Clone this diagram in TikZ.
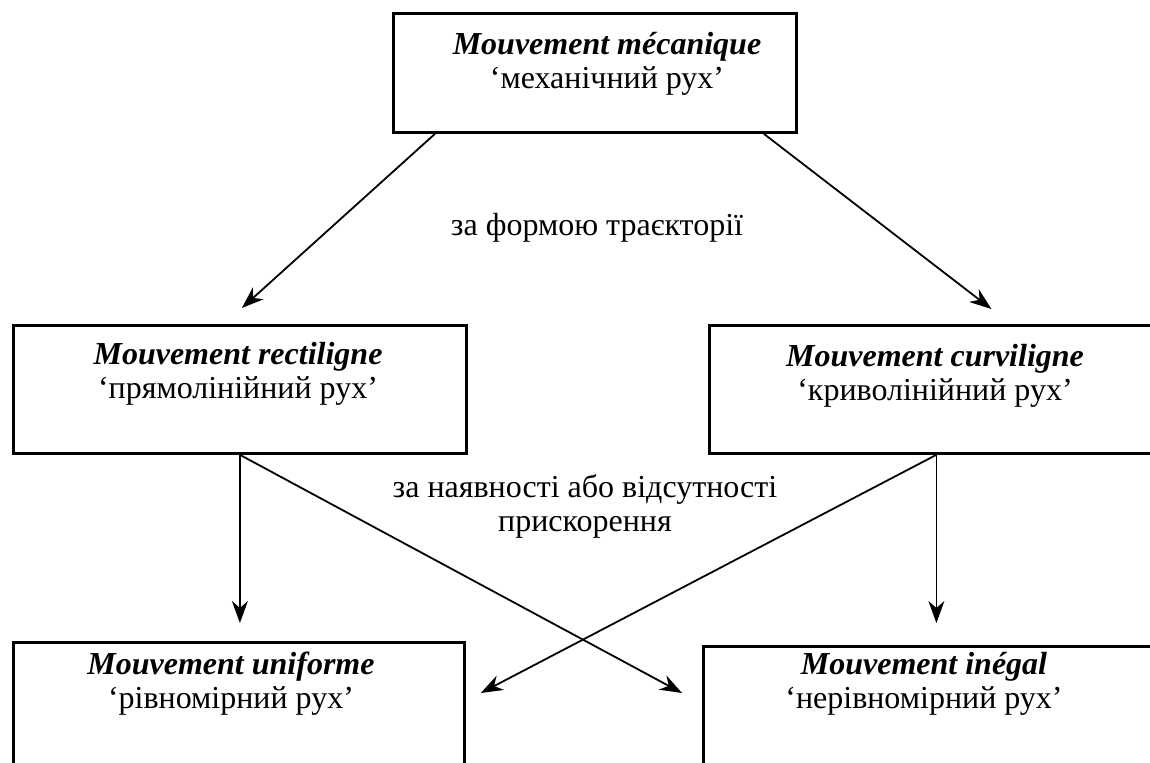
\documentclass[tikz,border=0pt]{standalone}
\usepackage{fontspec}
\setmainfont{Liberation Serif}
\usetikzlibrary{arrows.meta,positioning}

\tikzset{
  box/.style={draw, line width=1.4pt, rectangle, inner sep=0pt, anchor=north west},
  txt/.style={align=center, inner sep=0pt, font=\fontsize{16pt}{17pt}\selectfont},
  arr/.style={-{Stealth[length=11pt,width=8pt,inset=3.5pt]}, line width=0.9pt},
}
\newcommand{\fr}[1]{\textbf{\textit{#1}}}

\begin{document}
\begin{tikzpicture}[x=0.5pt,y=-0.5pt]
\useasboundingbox (0,0) rectangle (1150,762);
\clip (0,0) rectangle (1150,762);
% boxes
\node[box, minimum width=201.5pt, minimum height=59.5pt] (mec) at (392,12) {};
\node[box, minimum width=226.5pt, minimum height=64pt] (rect) at (12,324) {};
\node[box, minimum width=227pt, minimum height=64pt] (curv) at (708,324) {};
\node[box, minimum width=225.5pt, minimum height=80pt] (unif) at (12,641) {};
\node[box, minimum width=240pt, minimum height=80pt] (ineg) at (702,645) {};
% texts in the boxes (base = last line)
\node[txt, anchor=base] (mect) at (607,88) {\fr{Mouvement mécanique}\\‘механічний рух’};
\node[txt, anchor=base] (rectt) at (238,398) {\fr{Mouvement rectiligne}\\‘прямолінійний рух’};
\node[txt, anchor=base] (curvt) at (935,400) {\fr{Mouvement curviligne}\\‘криволінійний рух’};
\node[txt, anchor=base] (unift) at (231,708) {\fr{Mouvement uniforme}\\‘рівномірний рух’};
\node[txt, anchor=base] (inegt) at (924,708) {\fr{Mouvement inégal}\\‘нерівномірний рух’};
% criteria
\node[txt] (forme) at (597,228) {за формою траєкторії};
\node[txt] (accel) at (585,506) {за наявності або відсутності\\прискорення};
% arrows
\draw[arr] ([xshift=21.5pt]mec.south west) -- ([yshift=8pt,xshift=1pt]rect.north);
\draw[arr] ([xshift=-17pt]mec.south east) -- ([xshift=27.5pt,yshift=7.5pt]curv.north);
\coordinate (rs) at (rect.south);
\coordinate (cs) at (curv.south);
\coordinate (ut) at ([yshift=9pt]unif.north);
\draw[arr] (rs) -- (rs |- ut);
\draw[arr] (cs) -- (cs |- ut);
\draw[arr] (rs) -- ([xshift=-10pt,yshift=-24pt]ineg.north west);
\draw[arr] (cs) -- ([xshift=7.5pt,yshift=-26pt]unif.north east);
\end{tikzpicture}
\end{document}
